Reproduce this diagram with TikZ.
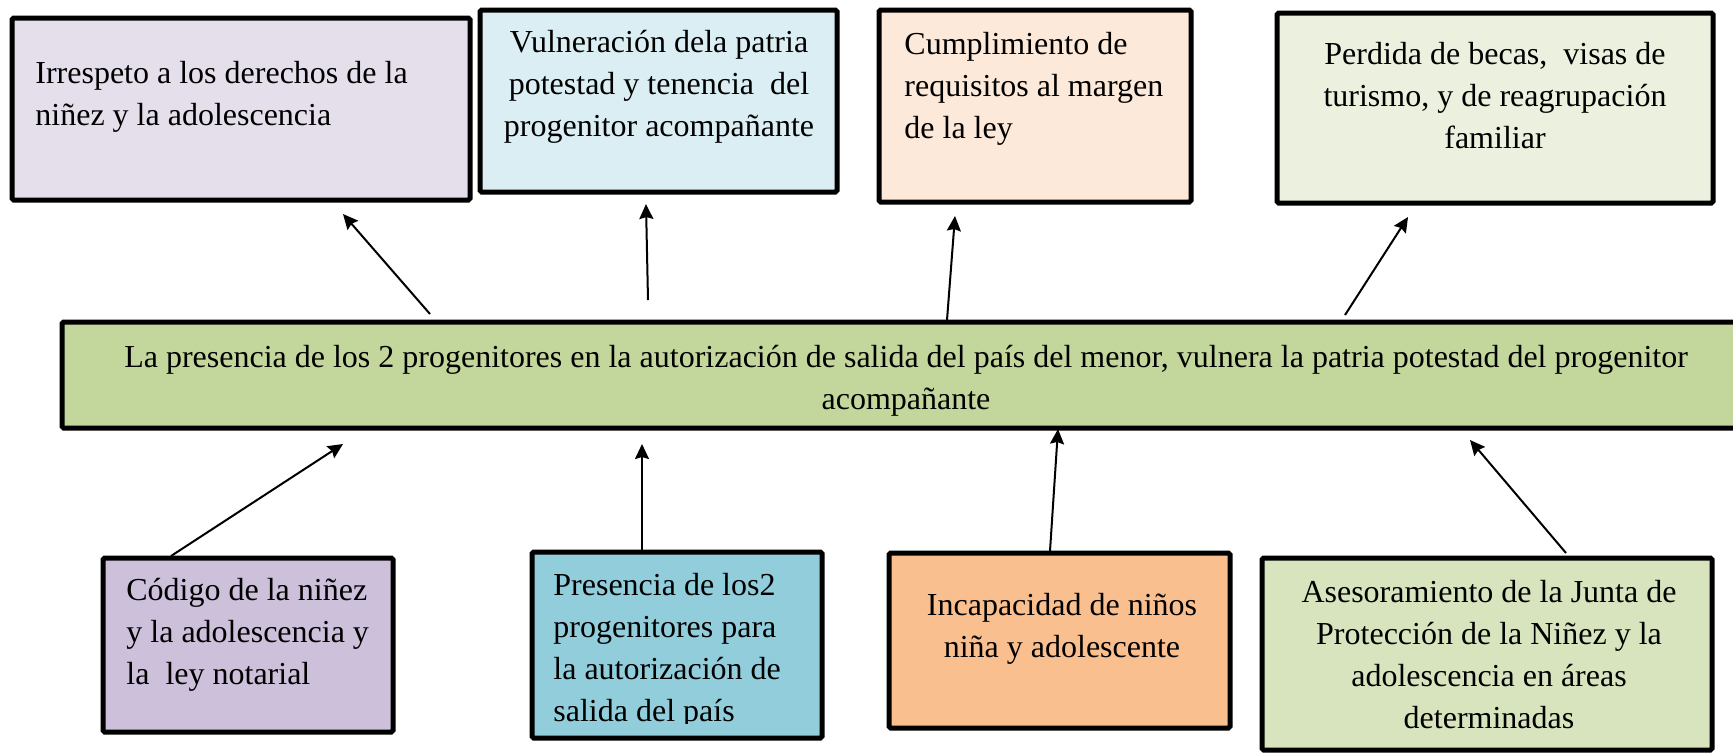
\documentclass[tikz,border=0pt]{standalone}
\usepackage{fontspec}
\setmainfont{Liberation Serif}
\usetikzlibrary{arrows.meta}
\definecolor{cA}{HTML}{E5DFEC}
\definecolor{cB}{HTML}{DAEEF3}
\definecolor{cC}{HTML}{FDE9D9}
\definecolor{cD}{HTML}{EBF1DE}
\definecolor{cM}{HTML}{C3D69B}
\definecolor{cE}{HTML}{CCC0DA}
\definecolor{cF}{HTML}{92CDDC}
\definecolor{cG}{HTML}{FABF8F}
\definecolor{cH}{HTML}{D7E4BD}
\tikzset{
  boxframe/.style={draw=black, line width=2.5pt, rounded corners=0.8pt},
  txt/.style={inner sep=0pt, font=\fontsize{16pt}{21pt}\selectfont},
  conn/.style={line width=1pt, -{Stealth[length=7.5pt,width=7pt,inset=1pt]}}
}
\begin{document}
\begin{tikzpicture}[x=0.5pt,y=-0.5pt]
\useasboundingbox (0,0) rectangle (1733,752);
\clip (0,0) rectangle (1733,752);
% top boxes
\draw[boxframe, fill=cA] (12,18) rectangle (470,200);
\node[txt, anchor=west, align=left] (t1) at (35,97) {Irrespeto a los derechos de la\\niñez y la adolescencia};
\draw[boxframe, fill=cB] (480,10) rectangle (837,192);
\node[txt, align=center] (t2) at (659,87) {Vulneración dela patria\\potestad y tenencia\ \ del\\progenitor acompañante};
\draw[boxframe, fill=cC] (879,10) rectangle (1191,202);
\node[txt, anchor=west, align=left] (t3) at (904,89) {Cumplimiento de\\requisitos al margen\\de la ley};
\draw[boxframe, fill=cD] (1277,13) rectangle (1713,203);
\node[txt, align=center] (t4) at (1495,96) {Perdida de becas,\ \ visas de\\turismo, y de reagrupación\\familiar};
% central box
\draw[boxframe, fill=cM] (62,322) rectangle (1760,428);
\node[txt, align=center] (tm) at (906,381) {La presencia de los 2 progenitores en la autorización de salida del país del menor, vulnera la patria potestad del progenitor\\acompañante};
% bottom boxes
\draw[boxframe, fill=cE] (103,558) rectangle (393,732);
\node[txt, anchor=west, align=left] (t5) at (126,635) {Código de la niñez\\y la adolescencia y\\la\ \ ley notarial};
\draw[boxframe, fill=cF] (532,552) rectangle (822,738);
\begin{scope}
\clip (532,552) rectangle (822,723);
\node[txt, anchor=west, align=left] (t6) at (553,651) {Presencia de los2\\progenitores para\\la autorización de\\salida del país};
\end{scope}
\draw[boxframe, fill=cG] (889,553) rectangle (1230,728);
\node[txt, align=center] (t7) at (1062,629) {Incapacidad de niños\\niña y adolescente};
\draw[boxframe, fill=cH] (1262,558) rectangle (1712,750);
\node[txt, align=center] (t8) at (1489,655) {Asesoramiento de la Junta de\\Protección de la Niñez y la\\adolescencia en áreas\\determinadas};
% connector end points
\coordinate (s1) at (430,314); \coordinate (e1) at (343,214);
\coordinate (s2) at (648,300); \coordinate (e2) at (646,204);
\coordinate (s3) at (947,320); \coordinate (e3) at (955,216);
\coordinate (s4) at (1345,315); \coordinate (e4) at (1408,217);
\coordinate (s5) at (171,556); \coordinate (e5) at (343,444);
\coordinate (s6) at (642,550); \coordinate (e6) at (642,444);
\coordinate (s7) at (1050,551); \coordinate (e7) at (1058,429);
\coordinate (s8) at (1566,553); \coordinate (e8) at (1470,440);
\foreach \i in {1,...,8} { \draw[conn] (s\i) -- (e\i); }
\end{tikzpicture}
\end{document}
